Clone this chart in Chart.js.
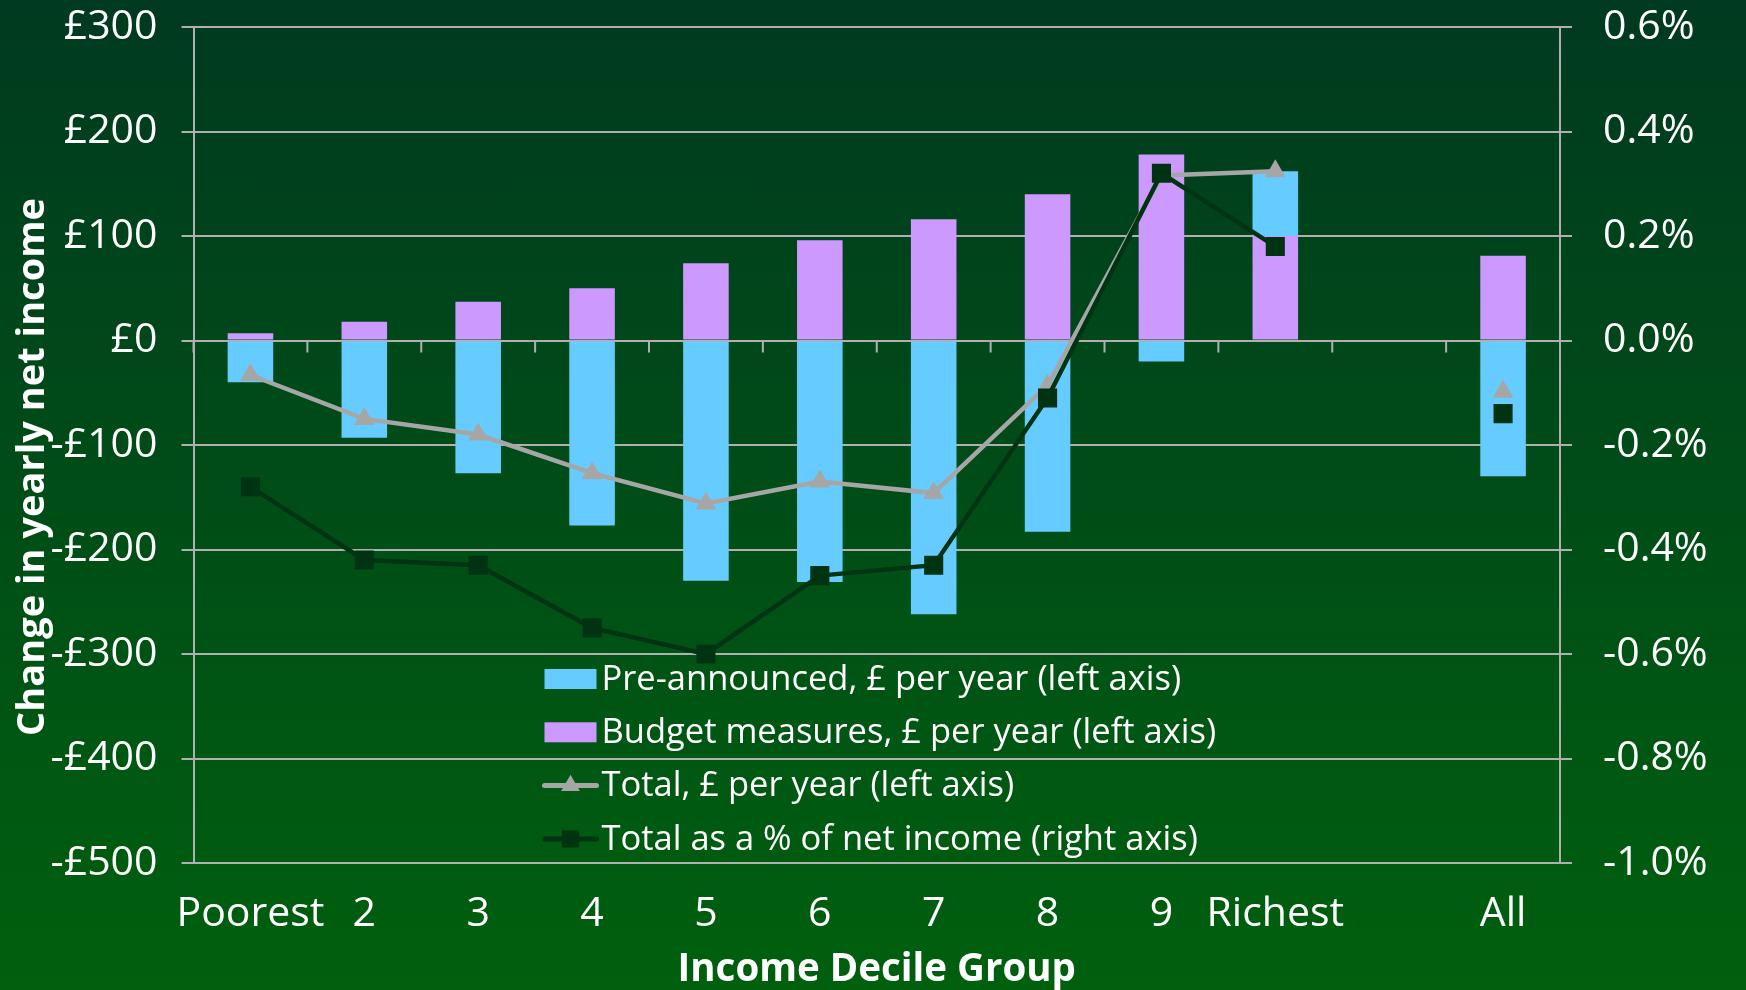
<!DOCTYPE html>
<html>
<head>
<meta charset="utf-8">
<title>Change in yearly net income by income decile group</title>
<script src="https://cdn.jsdelivr.net/npm/chart.js"></script>
<style>
    html, body { margin: 0; padding: 0; overflow: hidden; }
    body { width: 1746px; height: 990px; background: linear-gradient(to bottom, #003a20 0%, #00600e 100%); }
    #wrap { position: relative; width: 1746px; height: 990px; }
</style>
</head>
<body>
<div id="wrap"><canvas id="myChart"></canvas></div>
<script>
// Income decile groups on the x-axis (blank slot leaves the gap before "All")
var deciles = ['Poorest', '2', '3', '4', '5', '6', '7', '8', '9', 'Richest', '', 'All'];

// £ per year, left axis
var preAnnounced   = [-40, -93, -127, -177, -230, -231, -262, -183, -20, 62, null, -130];
var budgetMeasures = [7, 18, 37, 50, 74, 96, 116, 140, 178, 100, null, 81];
var totalPounds    = [-33, -75, -90, -127, -156, -135, -146, -43, 158, 162, null, -49];

// Total as % of net income, right axis
var totalPercent = [-0.28, -0.42, -0.43, -0.55, -0.60, -0.45, -0.43, -0.11, 0.32, 0.18, null, -0.14];

var yTitle = 'Change in yearly net income';

var FONT = '"Open Sans", "Noto Sans", sans-serif';
var gridColor = '#b0b0b0';
Chart.defaults.font.family = FONT;
Chart.defaults.color = '#ffffff';

// Little tick marks hanging off the £0 line between categories (Excel style)
var zeroTicks = {
    id: 'zeroTicks',
    beforeDatasetsDraw: function(chart) {
        var x = chart.scales.x, y = chart.scales.y, ctx = chart.ctx;
        var zero = y.getPixelForValue(0);
        var step = (x.right - x.left) / deciles.length;
        ctx.save();
        ctx.strokeStyle = gridColor;
        ctx.lineWidth = 2;
        ctx.beginPath();
        for (var i = 0; i <= deciles.length; i++) {
            var px = x.getPixelForValue(0) - step / 2 + i * step;
            ctx.moveTo(px, zero);
            ctx.lineTo(px, zero + 12);
        }
        ctx.stroke();
        ctx.restore();
    }
};

// Left axis title, drawn by hand: in the original it sits a bit below the plot centre
var leftTitle = {
    id: 'leftTitle',
    afterDraw: function(chart) {
        var ctx = chart.ctx, area = chart.chartArea;
        ctx.save();
        ctx.translate(33, (area.top + area.bottom) / 2 + 22);
        ctx.rotate(-Math.PI / 2);
        ctx.fillStyle = '#ffffff';
        ctx.font = 'bold 38px ' + FONT;
        ctx.textAlign = 'center';
        ctx.textBaseline = 'middle';
        ctx.fillText(yTitle, 0, 0);
        ctx.restore();
    }
};

// Legend sits inside the plot area, bottom middle
var insideLegend = {
    id: 'insideLegend',
    afterDatasetsDraw: function(chart) {
        var ctx = chart.ctx, area = chart.chartArea;
        var left = area.left + 351, top = area.top + 652, rowH = 53.3;
        chart.data.datasets.forEach(function(ds, i) {
            var cy = top + i * rowH;
            ctx.save();
            if (ds.type === 'bar') {
                ctx.fillStyle = ds.backgroundColor;
                ctx.fillRect(left, cy - 10, 52, 20);
            } else {
                ctx.strokeStyle = ds.borderColor;
                ctx.lineWidth = 5;
                ctx.lineCap = 'round';
                ctx.beginPath();
                ctx.moveTo(left, cy);
                ctx.lineTo(left + 52, cy);
                ctx.stroke();
                ctx.fillStyle = ds.pointBackgroundColor;
                Chart.helpers.drawPoint(ctx, {
                    pointStyle: ds.pointStyle,
                    radius: ds.pointRadius * 0.9,
                    rotation: 0,
                    borderWidth: 0
                }, left + 26, cy);
            }
            ctx.fillStyle = '#ffffff';
            ctx.font = '34.5px ' + FONT;
            ctx.textBaseline = 'middle';
            ctx.textAlign = 'left';
            ctx.fillText(ds.label, left + 57, cy + 1);
            ctx.restore();
        });
    }
};

// fixed axis sizes so the plot area lands where the original has it
function fixWidth(w) {
    return function(scale) {
        scale.width = w;
        scale.paddingTop = 0;
        scale.paddingBottom = 0;
    };
}

var ctx = document.getElementById('myChart').getContext('2d');

var myChart = new Chart(ctx, {
    type: 'bar',
    data: {
        labels: deciles,
        datasets: [{
            type: 'bar',
            label: 'Pre-announced, £ per year (left axis)',
            data: preAnnounced,
            backgroundColor: '#66ccff',
            stack: 'bars',
            yAxisID: 'y',
            order: 3,
            barPercentage: 0.4,
            categoryPercentage: 1
        }, {
            type: 'bar',
            label: 'Budget measures, £ per year (left axis)',
            data: budgetMeasures,
            backgroundColor: '#cc99ff',
            stack: 'bars',
            yAxisID: 'y',
            order: 2,
            barPercentage: 0.4,
            categoryPercentage: 1
        }, {
            type: 'line',
            label: 'Total, £ per year (left axis)',
            data: totalPounds,
            borderColor: '#a6a6a6',
            borderWidth: 4.5,
            pointStyle: 'triangle',
            pointRadius: 12,
            pointBackgroundColor: '#a6a6a6',
            pointBorderWidth: 0,
            stack: 'totalLine',
            yAxisID: 'y',
            order: 1,
            tension: 0
        }, {
            type: 'line',
            label: 'Total as a % of net income (right axis)',
            data: totalPercent,
            borderColor: '#003311',
            borderWidth: 4.5,
            pointStyle: 'rect',
            pointRadius: 13.5,
            pointBackgroundColor: '#003311',
            pointBorderWidth: 0,
            yAxisID: 'y1',
            order: 0,
            tension: 0
        }]
    },
    options: {
        responsive: true,
        maintainAspectRatio: false,
        animation: false,
        events: [],
        layout: { padding: { top: 27, left: 0, right: 0, bottom: 0 } },
        plugins: {
            legend: { display: false },
            tooltip: { enabled: false }
        },
        scales: {
            x: {
                stacked: true,
                grid: { display: false, drawTicks: false },
                border: { display: false },
                ticks: {
                    color: '#ffffff',
                    font: { size: 41 },
                    padding: 27,
                    maxRotation: 0,
                    autoSkip: false
                },
                title: {
                    display: true,
                    text: 'Income Decile Group',
                    color: '#ffffff',
                    font: { size: 38.5, weight: 'bold' },
                    padding: { top: 0, bottom: -3 }
                },
                afterFit: function(scale) {
                    scale.height = 127;
                    scale.paddingLeft = 0;
                    scale.paddingRight = 0;
                }
            },
            y: {
                position: 'left',
                stacked: true,
                min: -500,
                max: 300,
                ticks: {
                    stepSize: 100,
                    color: '#ffffff',
                    font: { size: 41 },
                    padding: 24,
                    callback: function(v) { return (v < 0 ? '-£' : '£') + Math.abs(v); }
                },
                grid: { color: gridColor, lineWidth: 2, tickLength: 12 },
                border: { display: true, color: gridColor, width: 2 },
                afterFit: fixWidth(193.5)
            },
            y1: {
                position: 'right',
                min: -1.0,
                max: 0.6,
                ticks: {
                    stepSize: 0.2,
                    color: '#ffffff',
                    font: { size: 41 },
                    padding: 31,
                    callback: function(v) { return v.toFixed(1) + '%'; }
                },
                grid: { drawOnChartArea: false, color: gridColor, lineWidth: 2, tickLength: 12 },
                border: { display: true, color: gridColor, width: 2 },
                afterFit: fixWidth(186)
            }
        }
    },
    plugins: [zeroTicks, leftTitle, insideLegend]
});
</script>
</body>
</html>
